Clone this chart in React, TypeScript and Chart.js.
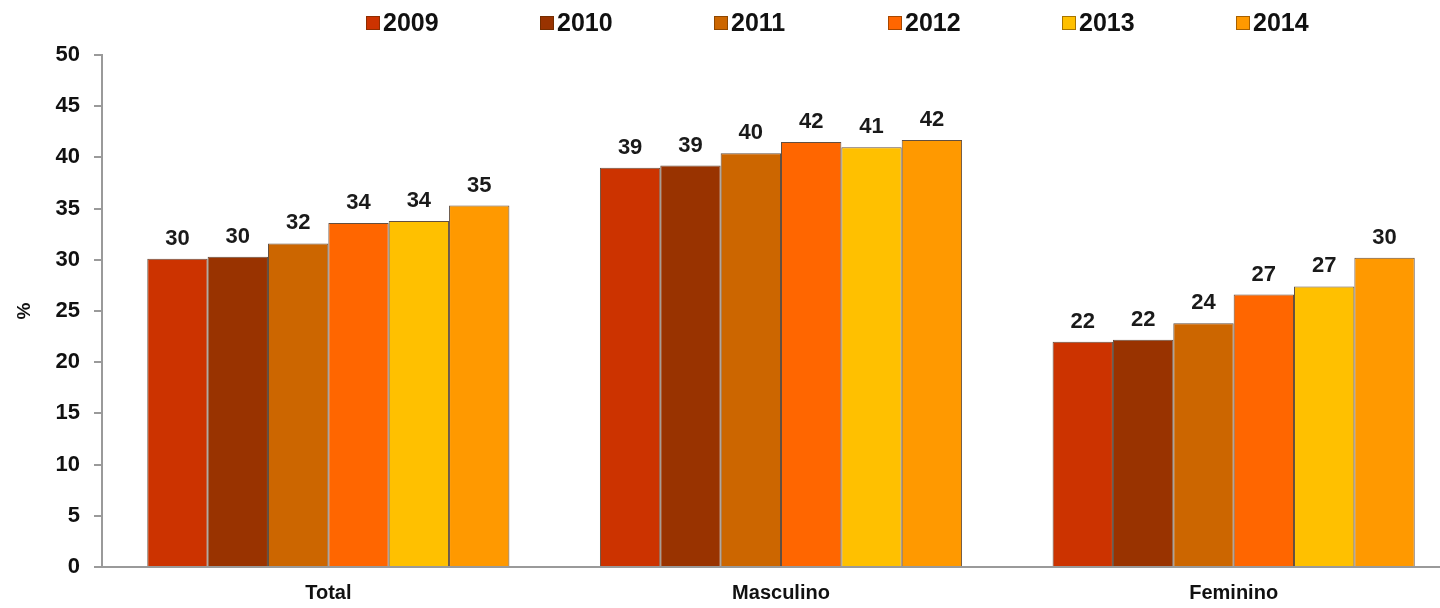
import React, { useEffect, useRef } from "react";
import { Chart, registerables } from "chart.js";

Chart.register(...registerables);

const categories = ["Total", "Masculino", "Feminino"];
const years = ["2009", "2010", "2011", "2012", "2013", "2014"];
const colors = ["#CC3300", "#993300", "#CC6600", "#FF6600", "#FFC000", "#FF9900"];
const v2009 = [30.1, 39.0, 22.0];
const v2010 = [30.3, 39.2, 22.2];
const v2011 = [31.6, 40.4, 23.8];
const v2012 = [33.6, 41.5, 26.6];
const v2013 = [33.8, 41.0, 27.4];
const v2014 = [35.3, 41.7, 30.2];
const seriesValues = [v2009, v2010, v2011, v2012, v2013, v2014];
const yTicks = [0, 5, 10, 15, 20, 25, 30, 35, 40, 45, 50];

const FONT = "'Liberation Sans', Arial, sans-serif";

const valueLabels = {
  id: "valueLabels",
  afterDatasetsDraw(chart: any) {
    const ctx = chart.ctx;
    ctx.save();
    ctx.font = `bold 22px ${FONT}`;
    ctx.fillStyle = "#1a1a1a";
    ctx.textAlign = "center";
    ctx.textBaseline = "bottom";
    chart.data.datasets.forEach((ds: any, di: number) => {
      const meta = chart.getDatasetMeta(di);
      meta.data.forEach((bar: any, i: number) => {
        ctx.fillText(String(Math.round(ds.data[i])), bar.x, bar.y - 9);
      });
    });
    ctx.restore();
  },
};

const customLegend = {
  id: "customLegend",
  afterDraw(chart: any) {
    const ctx = chart.ctx;
    ctx.save();
    ctx.font = `bold 25px ${FONT}`;
    ctx.textBaseline = "middle";
    ctx.textAlign = "left";
    chart.data.datasets.forEach((ds: any, i: number) => {
      const x = 366 + i * 174;
      const y = 23;
      ctx.fillStyle = ds.backgroundColor;
      ctx.fillRect(x, y - 7, 14, 14);
      ctx.strokeStyle = "rgba(80,40,0,0.5)";
      ctx.lineWidth = 1;
      ctx.strokeRect(x + 0.5, y - 6.5, 13, 13);
      ctx.fillStyle = "#111";
      ctx.fillText(ds.label, x + 17, y + 1);
    });
    ctx.restore();
  },
};

export default function App() {
  const ref = useRef<HTMLCanvasElement>(null);
  useEffect(() => {
    if (!ref.current) return;
    const chart = new Chart(ref.current, {
      type: "bar",
      data: {
        labels: categories,
        datasets: years.map((y, i) => ({
          label: y,
          data: seriesValues[i],
          backgroundColor: colors[i],
          borderColor: "rgba(60,35,15,0.8)",
          borderWidth: 1,
          categoryPercentage: 0.8,
          barPercentage: 1,
        })),
      },
      options: {
        responsive: false,
        animation: false,
        layout: { padding: { top: 55, left: 0, right: 0, bottom: 0 } },
        plugins: {
          legend: { display: false },
          tooltip: { enabled: false },
        },
        scales: {
          x: {
            grid: { display: false, drawTicks: false },
            border: { display: true, color: "#9a9a9a", width: 2 },
            ticks: {
              color: "#111",
              font: { family: FONT, size: 20, weight: "bold" },
              padding: 14,
            },
            afterFit(scale: any) {
              scale.height = 41;
            },
          },
          y: {
            min: 0,
            max: 50,
            afterBuildTicks(scale: any) {
              scale.ticks = yTicks.map((v) => ({ value: v }));
            },
            grid: {
              drawOnChartArea: false,
              drawTicks: true,
              tickLength: 8,
              color: "#9a9a9a",
              lineWidth: 2,
            },
            border: { display: true, color: "#9a9a9a", width: 2 },
            ticks: {
              color: "#111",
              font: { family: FONT, size: 22, weight: "bold" },
              padding: 14,
            },
            title: {
              display: true,
              text: "%",
              color: "#111",
              font: { family: FONT, size: 19, weight: "bold" },
              padding: { top: 13, bottom: 0 },
            },
            afterFit(scale: any) {
              scale.width = 102;
            },
          },
        },
      },
      plugins: [valueLabels, customLegend],
    });
    return () => chart.destroy();
  }, []);
  return (
    <div
      style={{
        position: "absolute",
        left: 0,
        top: 0,
        width: 1440,
        height: 608,
        overflow: "hidden",
        background: "#fff",
      }}
    >
      <canvas ref={ref} width={1460} height={608} />
    </div>
  );
}
